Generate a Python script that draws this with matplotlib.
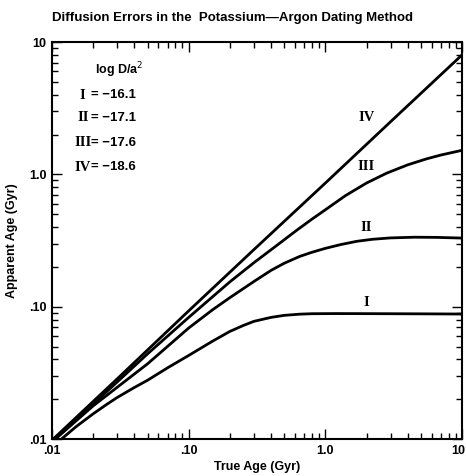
import matplotlib
matplotlib.use("Agg")
import matplotlib.pyplot as plt
from matplotlib.ticker import LogLocator, FixedLocator, FixedFormatter, NullFormatter
from matplotlib.transforms import ScaledTranslation

# true age (Gyr) vs apparent age (Gyr) for each diffusion parameter
x_I = [0.01, 0.015, 0.02, 0.025, 0.03, 0.04, 0.05, 0.07, 0.1, 0.15, 0.2, 0.25, 0.3,
       0.4, 0.5, 0.65, 0.8, 1.2, 2.0, 5.0, 10.0]
y_I = [0.0087, 0.0124, 0.0155, 0.0182, 0.0206, 0.0245, 0.0278, 0.0345, 0.0428, 0.055,
       0.065, 0.072, 0.0775, 0.083, 0.086, 0.0878, 0.0885, 0.0887, 0.0886, 0.0883, 0.088]

x_II = [0.01, 0.02, 0.05, 0.1, 0.15, 0.2, 0.3, 0.4, 0.5, 0.65, 0.8, 1.0, 1.3, 1.7,
        2.2, 3.0, 4.5, 6.5, 10.0]
y_II = [0.0095, 0.0178, 0.037, 0.069, 0.095, 0.117, 0.155, 0.188, 0.213, 0.240,
        0.258, 0.276, 0.295, 0.312, 0.323, 0.331, 0.335, 0.334, 0.330]

x_III = [0.01, 0.03, 0.05, 0.1, 0.2, 0.3, 0.45, 0.6, 0.8, 1.0, 1.4, 2.0, 2.8, 4.0,
         5.5, 7.0, 10.0]
y_III = [0.0095, 0.027, 0.044, 0.083, 0.154, 0.215, 0.295, 0.37, 0.46, 0.54, 0.69,
         0.86, 1.02, 1.18, 1.31, 1.40, 1.52]

x_IV = [0.01, 0.03, 0.1, 0.3, 1.0, 3.0, 10.0]
y_IV = [0.0098, 0.0285, 0.093, 0.27, 0.86, 2.5, 8.0]

curve_names = ["I", "II", "III", "IV"]
log_d_a2 = ["-16.1", "-17.1", "-17.6", "-18.6"]

tick_vals = [0.01, 0.1, 1.0, 10.0]
tick_text = [".01", ".10", "1.0", "10"]

sans = "Liberation Sans"
serif = "Liberation Serif"

fig = plt.figure(figsize=(4.66, 4.76), dpi=100)
ax = fig.add_axes([0.1116, 0.0777, 0.880, 0.834])

for xs, ys in [(x_I, y_I), (x_II, y_II), (x_III, y_III), (x_IV, y_IV)]:
    ax.plot(xs, ys, color="black", lw=2.0, solid_joinstyle="round")

ax.set_xscale("log")
ax.set_yscale("log")
ax.set_xlim(0.01, 10)
ax.set_ylim(0.01, 10)

for axis in (ax.xaxis, ax.yaxis):
    axis.set_major_locator(FixedLocator(tick_vals))
    axis.set_major_formatter(FixedFormatter(tick_text))
    axis.set_minor_locator(LogLocator(base=10, subs=range(2, 10)))
    axis.set_minor_formatter(NullFormatter())

ax.tick_params(which="both", direction="in", top=True, right=True, color="black")
ax.tick_params(which="major", length=7.5, width=1.0, labelsize=9, pad=4)
ax.tick_params(which="minor", length=4.5, width=1.0)
for lab in ax.get_xticklabels() + ax.get_yticklabels():
    lab.set_fontfamily(sans)
    lab.set_fontweight("bold")
# keep the last x label inside the figure
last = ax.get_xticklabels()[-1]
last.set_transform(last.get_transform() + ScaledTranslation(-4 / 100, 0, fig.dpi_scale_trans))
for sp in ax.spines.values():
    sp.set_linewidth(1.5)

ax.set_xlabel("True Age (Gyr)", fontsize=9, fontweight="bold", family=sans, labelpad=3)
ax.set_ylabel("Apparent Age (Gyr)", fontsize=9, fontweight="bold", family=sans, labelpad=8)
fig.text(0.5, 0.963, "Diffusion Errors in the  Potassium\u2014Argon Dating Method",
         ha="center", va="center", fontsize=9.5, fontweight="bold", family=sans)

# parameter key in the upper left
ax.text(0.105, 0.929, "log D/a$^2$", transform=ax.transAxes, ha="left", va="center",
        fontsize=9, fontweight="bold", family=sans)
key_y = [0.866, 0.809, 0.746, 0.685]
for name, val, yy in zip(curve_names, log_d_a2, key_y):
    ax.text(0.075, yy, name, transform=ax.transAxes, ha="center", va="center",
            fontsize=10.5, fontweight="bold", family=serif)
    ax.text(0.095, yy, "= \u2212" + val[1:], transform=ax.transAxes, ha="left", va="center",
            fontsize=9.5, fontweight="bold", family=sans)

# curve labels
label_y = [0.107, 0.40, 1.14, 2.67]
for name, yy in zip(curve_names, label_y):
    ax.text(2.0, yy, name, ha="center", va="center", fontsize=10.5,
            fontweight="bold", family=serif)

fig.savefig("out.png", dpi=100)
